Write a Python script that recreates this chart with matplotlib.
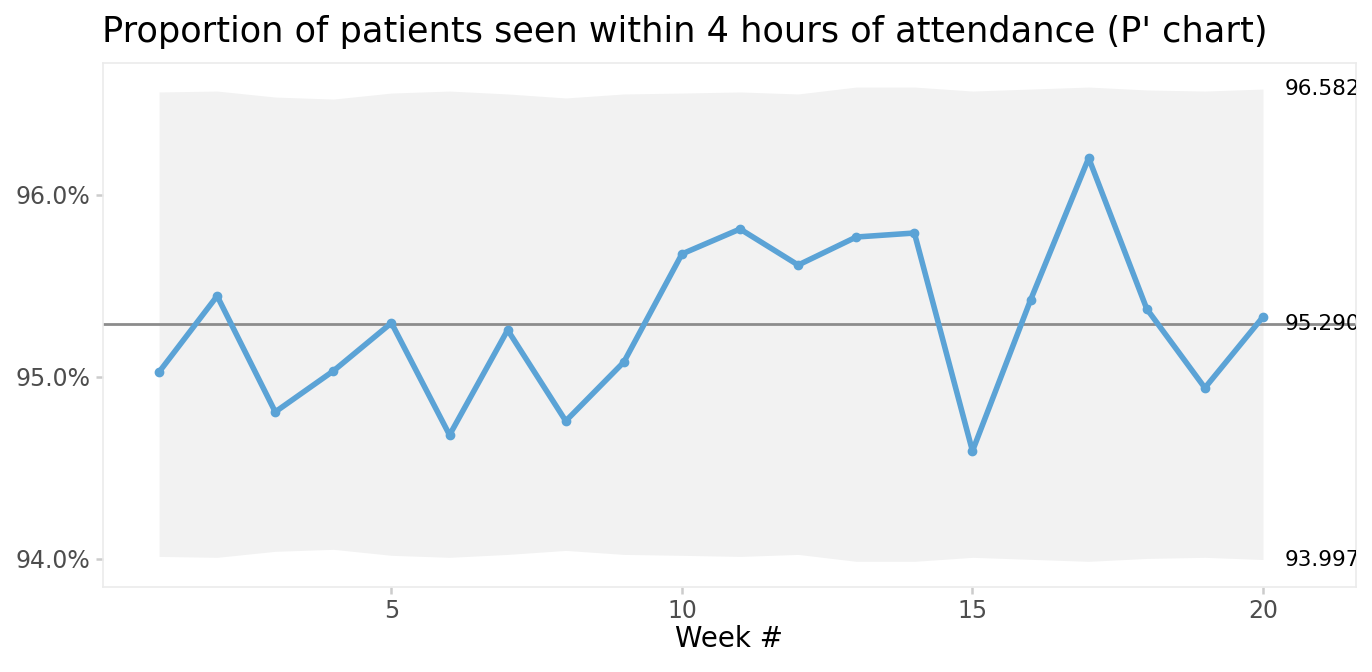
import matplotlib
matplotlib.use("Agg")
import matplotlib.pyplot as plt

# P' chart data
weeks = list(range(1, 21))
proportion = [95.027, 95.445, 94.808, 95.033, 95.297, 94.681, 95.258, 94.758, 95.082, 95.676,
              95.813, 95.615, 95.769, 95.791, 94.593, 95.423, 96.203, 95.374, 94.940, 95.330]
upper = [96.566, 96.571, 96.538, 96.527, 96.560, 96.571, 96.555, 96.533, 96.555, 96.560,
         96.566, 96.555, 96.593, 96.593, 96.571, 96.582, 96.593, 96.577, 96.571, 96.582]
lower = [94.014, 94.009, 94.042, 94.053, 94.020, 94.009, 94.025, 94.047, 94.025, 94.020,
         94.014, 94.025, 93.987, 93.987, 94.009, 93.998, 93.987, 94.003, 94.009, 93.997]
centre = 95.290

fig = plt.figure(figsize=(13.72, 6.72), dpi=100)
ax = fig.add_axes([0.0751, 0.1265, 0.9132, 0.7797])

ax.fill_between(weeks, lower, upper, color="#f2f2f2", linewidth=0, zorder=1)
ax.axhline(centre, color="#8c8c8c", linewidth=2.0, zorder=2)
ax.plot(weeks, proportion, color="#5ba3d6", linewidth=4.0, marker="o", markersize=6,
        zorder=3, solid_capstyle="round")

# limit labels at the last week, clipped by the panel
for v in (upper[-1], centre, lower[-1]):
    ax.text(weeks[-1] + 0.38, v, f"{v:.3f}", fontsize=15.5, color="black",
            va="center", ha="left", clip_on=True)

ax.set_xlim(0.036, 21.6)
ax.set_ylim(93.846, 96.725)
ax.set_xticks([5, 10, 15, 20])
ax.set_yticks([94, 95, 96])
ax.set_yticklabels(["94.0%", "95.0%", "96.0%"])
ax.tick_params(colors="#cccccc", labelcolor="#4d4d4d", labelsize=17, width=1.8, length=5, pad=4)

for s in ax.spines.values():
    s.set_color("#ebebeb")
    s.set_linewidth(1.2)

ax.set_xlabel("Week #", fontsize=20, labelpad=1)
ax.set_title("Proportion of patients seen within 4 hours of attendance (P' chart)",
             fontsize=25.3, loc="left", x=-0.001, pad=15)

fig.savefig("out.png", dpi=100)
